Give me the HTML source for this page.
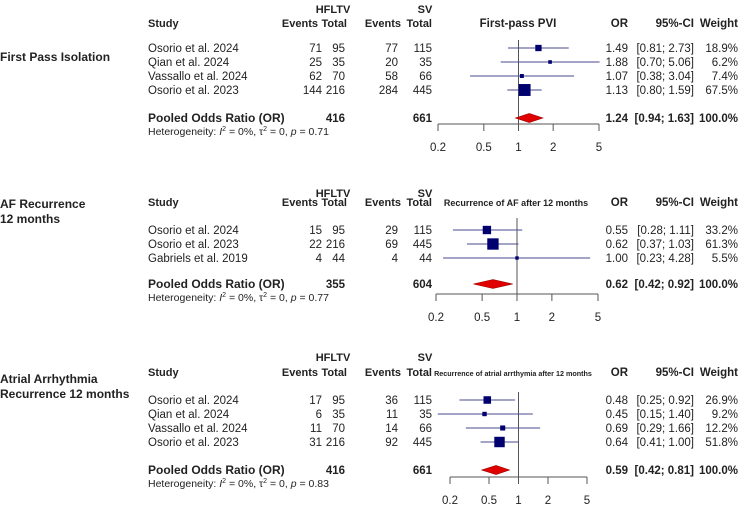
<!DOCTYPE html>
<html><head><meta charset="utf-8"><style>
html,body{margin:0;padding:0;background:#fff;}
svg{display:block;font-family:"Liberation Sans",Arial,sans-serif;}
</style></head><body>
<svg id="c" width="741" height="505" viewBox="0 0 741 505" xmlns="http://www.w3.org/2000/svg"></svg>
<script>
// Panel 1: First Pass Isolation
const p1Studies = ["Osorio et al. 2024","Qian et al. 2024","Vassallo et al. 2024","Osorio et al. 2023"];
const p1EvH = [71,25,62,144];
const p1TotH = [95,35,70,216];
const p1EvS = [77,20,58,284];
const p1TotS = [115,35,66,445];
const p1OR = [1.49,1.88,1.07,1.13];
const p1Lo = [0.81,0.70,0.38,0.80];
const p1Hi = [2.73,5.06,3.04,1.59];
const p1W = [18.9,6.2,7.4,67.5];
const p1Pooled = [1.24,0.94,1.63];
const p1Totals = [416,661];
const p1Het = "0.71";
// Panel 2: AF Recurrence
const p2Studies = ["Osorio et al. 2024","Osorio et al. 2023","Gabriels et al. 2019"];
const p2EvH = [15,22,4];
const p2TotH = [95,216,44];
const p2EvS = [29,69,4];
const p2TotS = [115,445,44];
const p2OR = [0.55,0.62,1.00];
const p2Lo = [0.28,0.37,0.23];
const p2Hi = [1.11,1.03,4.28];
const p2W = [33.2,61.3,5.5];
const p2Pooled = [0.62,0.42,0.92];
const p2Totals = [355,604];
const p2Het = "0.77";
// Panel 3: Atrial Arrhythmia Recurrence
const p3Studies = ["Osorio et al. 2024","Qian et al. 2024","Vassallo et al. 2024","Osorio et al. 2023"];
const p3EvH = [17,6,11,31];
const p3TotH = [95,35,70,216];
const p3EvS = [36,11,14,92];
const p3TotS = [115,35,66,445];
const p3OR = [0.48,0.45,0.69,0.64];
const p3Lo = [0.25,0.15,0.29,0.41];
const p3Hi = [0.92,1.40,1.66,1.00];
const p3W = [26.9,9.2,12.2,51.8];
const p3Pooled = [0.59,0.42,0.81];
const p3Totals = [416,661];
const p3Het = "0.83";
const tickVals = [0.2,0.5,1,2,5];

const svg = document.getElementById('c');
const NS = "http://www.w3.org/2000/svg";
function mk(tag, attrs, name, txt){
  const e = document.createElementNS(NS, tag);
  for (const k in attrs) e.setAttribute(k, attrs[k]);
  
  
  if (txt !== undefined) e.textContent = txt;
  svg.appendChild(e);
  return e;
}
function txt(x,y,s,name,opt){
  opt = opt||{};
  return mk('text',{x:x,y:y,'font-size':opt.size||11.5,'font-weight':opt.bold?'bold':'normal','text-anchor':opt.anchor||'start',fill:'#222'},name,s);
}
function f2(v){return v.toFixed(2);}

function panel(cfg){
  const P = cfg.prefix;
  const xs = v => cfg.x0 + (cfg.x1-cfg.x0)*Math.log(v/0.2)/Math.log(25);
  cfg.label.forEach((l,i)=>txt(0,cfg.labelY+i*15,l,P+'-panel-label',{bold:true,size:12}));
  txt(333,cfg.hY,"HFLTV",P+'-hfltv-header',{bold:true,anchor:'middle',size:11});
  txt(425,cfg.hY,"SV",P+'-sv-header',{bold:true,anchor:'middle',size:11});
  txt(148,cfg.sY,"Study",P+'-study-header',{bold:true,size:11});
  txt(318,cfg.sY,"Events",P+'-hfltv-events-header',{bold:true,anchor:'end',size:11});
  txt(347,cfg.sY,"Total",P+'-hfltv-total-header',{bold:true,anchor:'end',size:11});
  txt(399,cfg.sY,"Events",P+'-sv-events-header',{bold:true,anchor:'end',size:11}).setAttribute('x',401);
  txt(432,cfg.sY,"Total",P+'-sv-total-header',{bold:true,anchor:'end',size:11});
  txt(cfg.titleX,cfg.sY,cfg.title,P+'-plot-title',{bold:true,anchor:'middle',size:cfg.titleSize});
  txt(628,cfg.sY,"OR",P+'-or-header',{bold:true,anchor:'end'});
  txt(694,cfg.sY,"95%-CI",P+'-ci-header',{bold:true,anchor:'end'});
  txt(738,cfg.sY,"Weight",P+'-weight-header',{bold:true,anchor:'end'});
  mk('line',{x1:xs(1),x2:xs(1),y1:cfg.refTop,y2:cfg.axisY,stroke:'#555','stroke-width':1},P+'-reference-line');
  cfg.studies.forEach((s,i)=>{
    const y = cfg.rowY + i*cfg.rowH, b = y+4;
    txt(148,b,s,P+'-study-name');
    txt(322,b,cfg.evH[i],P+'-hfltv-events',{anchor:'end'});
    txt(345,b,cfg.totH[i],P+'-hfltv-total',{anchor:'end'});
    txt(398,b,cfg.evS[i],P+'-sv-events',{anchor:'end'});
    txt(432,b,cfg.totS[i],P+'-sv-total',{anchor:'end'});
    const lo = Math.max(xs(cfg.lo[i]), cfg.x0-20), hi = Math.min(xs(cfg.hi[i]), 600);
    mk('line',{x1:lo,x2:hi,y1:y,y2:y,stroke:'#4a4a8c','stroke-width':0.9},P+'-ci-line');
    const sz = 1.45*Math.sqrt(cfg.w[i]);
    mk('rect',{x:xs(cfg.or[i])-sz/2,y:y-sz/2,width:sz,height:sz,fill:'#00006e'},P+'-study-square');
    txt(628,b,f2(cfg.or[i]),P+'-or-value',{anchor:'end'});
    txt(694,b,"["+f2(cfg.lo[i])+"; "+f2(cfg.hi[i])+"]",P+'-ci-value',{anchor:'end'});
    txt(738,b,cfg.w[i].toFixed(1)+"%",P+'-weight-value',{anchor:'end'});
  });
  const py = cfg.poolY, pb = py+4;
  txt(148,pb,"Pooled Odds Ratio (OR)",P+'-pooled-label',{bold:true,size:12});
  txt(345,pb,cfg.totals[0],P+'-pooled-hfltv-total',{bold:true,anchor:'end'});
  txt(432,pb,cfg.totals[1],P+'-pooled-sv-total',{bold:true,anchor:'end'});
  const pp = cfg.pooled;
  mk('polygon',{points:`${xs(pp[1])},${py} ${xs(pp[0])},${py-4.5} ${xs(pp[2])},${py} ${xs(pp[0])},${py+4.5}`,fill:'#e00000',stroke:'#900','stroke-width':0.6},P+'-pooled-diamond');
  txt(628,pb,f2(pp[0]),P+'-pooled-or',{bold:true,anchor:'end'});
  txt(694,pb,"["+f2(pp[1])+"; "+f2(pp[2])+"]",P+'-pooled-ci',{bold:true,anchor:'end'});
  txt(738,pb,"100.0%",P+'-pooled-weight',{bold:true,anchor:'end'});
  const h = mk('text',{x:148,y:py+17,'font-size':10.5,fill:'#222'},P+'-heterogeneity');
  h.innerHTML = 'Heterogeneity: <tspan font-style="italic">I</tspan><tspan dy="-4" font-size="7">2</tspan><tspan dy="4"> = 0%, τ</tspan><tspan dy="-4" font-size="7">2</tspan><tspan dy="4"> = 0, </tspan><tspan font-style="italic">p</tspan> = '+cfg.het;
  mk('line',{x1:cfg.x0,x2:cfg.x1,y1:cfg.axisY,y2:cfg.axisY,stroke:'#555','stroke-width':1},P+'-x-axis');
  tickVals.forEach(v=>{
    mk('line',{x1:xs(v),x2:xs(v),y1:cfg.axisY,y2:cfg.axisY+7,stroke:'#555','stroke-width':1},P+'-x-tick');
    txt(xs(v),cfg.axisY+27,String(v),P+'-x-tick-label',{anchor:'middle'});
  });
}
panel({prefix:'fpi',label:["First Pass Isolation"],labelY:61,hY:13,sY:27,title:"First-pass PVI",titleX:518,titleSize:11.5,
  studies:p1Studies,evH:p1EvH,totH:p1TotH,evS:p1EvS,totS:p1TotS,or:p1OR,lo:p1Lo,hi:p1Hi,w:p1W,pooled:p1Pooled,totals:p1Totals,het:p1Het,
  rowY:48,rowH:14,poolY:118,axisY:124,refTop:40,x0:438,x1:599});
panel({prefix:'af',label:["AF Recurrence","12 months"],labelY:208,hY:197,sY:206,title:"Recurrence of AF after 12 months",titleX:516,titleSize:9,
  studies:p2Studies,evH:p2EvH,totH:p2TotH,evS:p2EvS,totS:p2TotS,or:p2OR,lo:p2Lo,hi:p2Hi,w:p2W,pooled:p2Pooled,totals:p2Totals,het:p2Het,
  rowY:230,rowH:14,poolY:284,axisY:294,refTop:218,x0:436,x1:598});
panel({prefix:'aa',label:["Atrial Arrhythmia","Recurrence 12 months"],labelY:383,hY:361,sY:376,title:"Recurrence of atrial arrthymia after 12 months",titleX:513,titleSize:7.2,
  studies:p3Studies,evH:p3EvH,totH:p3TotH,evS:p3EvS,totS:p3TotS,or:p3OR,lo:p3Lo,hi:p3Hi,w:p3W,pooled:p3Pooled,totals:p3Totals,het:p3Het,
  rowY:400,rowH:14,poolY:470,axisY:477,refTop:392,x0:450,x1:587});
</script>
</body></html>
